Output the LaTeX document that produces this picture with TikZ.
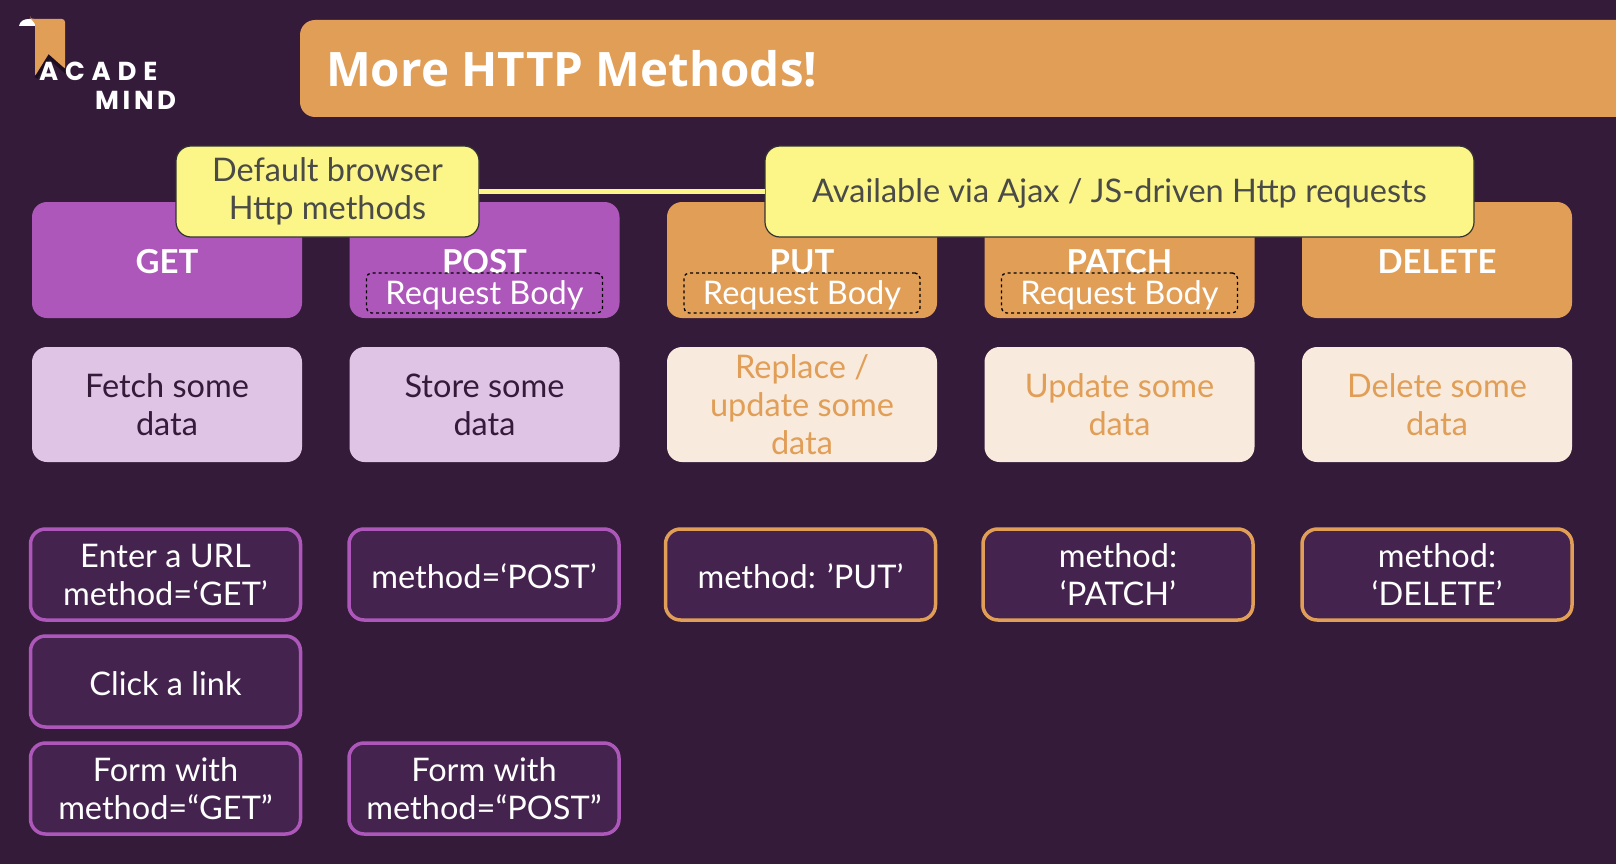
\documentclass[tikz,border=0pt]{standalone}
\usepackage{fontspec}
\setmainfont{Lato}
\newfontfamily\titlefont{Open Sans}
\newfontfamily\brandfont[LetterSpace=26]{Poppins}
\newfontfamily\mindfont[LetterSpace=14]{Poppins}
\usetikzlibrary{positioning}
\definecolor{acadbg}{HTML}{351B3A}
\definecolor{acadpurple}{HTML}{AE57BB}
\definecolor{acadorange}{HTML}{E19E57}
\definecolor{acadlilac}{HTML}{E0C4E6}
\definecolor{acadcream}{HTML}{F8EADC}
\definecolor{acadcell}{HTML}{45234F}
\definecolor{acadyellow}{HTML}{FCF688}
\definecolor{acadink}{HTML}{4A4A48}
\definecolor{acaddark}{HTML}{1C0E20}
\tikzset{
  node distance=29pt and 47.5pt,
  box/.style={rectangle, rounded corners=15pt, align=center, outer sep=0pt, inner sep=0pt,
              minimum width=270pt, font=\fontsize{32.5}{38}\selectfont},
  lowered/.style={execute at begin node={\rule{0pt}{#1}}},
  lowered/.default=28.5pt,
  head/.style={box, lowered=27pt, minimum height=116pt, fill=acadpurple, text=white},
  heado/.style={head, fill=acadorange},
  use/.style={box, minimum height=115pt, fill=acadlilac, text=acadbg},
  useo/.style={use, fill=acadcream, text=acadorange},
  cell/.style={box, lowered, minimum height=91pt, line width=3.5pt, draw=acadpurple, fill=acadcell, text=white},
  cello/.style={cell, draw=acadorange},
  note/.style={box, lowered, minimum height=91pt, line width=1.2pt, draw=black!80, fill=acadyellow, text=acadink},
  body/.style={rectangle, lowered, rounded corners=5pt, dashed, draw=black, line width=1.3pt, outer sep=0pt, inner sep=0pt,
               minimum width=236pt, minimum height=40pt, text=white, font=\fontsize{32.5}{38}\selectfont},
  title/.style={text=white, font=\titlefont\bfseries\fontsize{47.5}{50}\selectfont, inner sep=0pt},
  brand/.style={text=white, inner sep=0pt, font=\brandfont\bfseries\fontsize{26}{30}\selectfont},
  brandm/.style={brand, font=\mindfont\bfseries\fontsize{26}{30}\selectfont},
  link/.style={line width=5pt, draw=acadyellow},
}
\newcommand{\hname}[1]{{\bfseries\fontsize{33}{38}\selectfont #1}}
\begin{document}
\begin{tikzpicture}[x=1pt, y=-1pt]
    \useasboundingbox[fill=acadbg] (0,0) rectangle (1616,864);

    % logo
    \fill[white] (19,26) .. controls (20,21) and (24,19) .. (29,19) -- (34,19) -- (36,26) -- cycle;
    \fill[acadorange, rounded corners=3pt] (30,19) -- (65,19) -- (65,70) -- (48,58) -- (35,77) -- (35,27) .. controls (35,24) and (33,21) .. (30,19) -- cycle;
    \draw[acaddark, line width=3.5pt] (36,78) -- (49,57) -- (66,72);
    \node[brand, anchor=west] (acade) at (39,71) {ACADE};
    \node[brandm, anchor=west] (mind) at (95,100) {MIND};

    % banner
    \node[rectangle, rounded corners=15pt, fill=acadorange, minimum width=1340pt, minimum height=97pt, anchor=north west, outer sep=0pt] (banner) at (300,20) {};
    \node[title, anchor=west] (headline) at (326,69) {More HTTP Methods!};

    % method column heads
    \node[head, anchor=north west] (get) at (32,202) {\hname{GET}};
    \node[head, right=of get] (post) {\hname{POST}};
    \node[heado, right=of post] (put) {\hname{PUT}};
    \node[heado, right=of put] (patch) {\hname{PATCH}};
    \node[heado, right=of patch] (delete) {\hname{DELETE}};

    \foreach \m in {post,put,patch}{
      \node[body, above=5pt of \m.south] (body\m) {Request Body};
    }

    % what they do
    \node[use, below=of get] (useget) {Fetch some\\data};
    \node[use, below=of post] (usepost) {Store some\\data};
    \node[useo, below=of put] (useput) {Replace /\\update some\\data};
    \node[useo, below=of patch] (usepatch) {Update some\\data};
    \node[useo, below=of delete] (usedelete) {Delete some\\data};

    % how they are sent
    \node[cell, below=67pt of useget, xshift=-1.5pt] (url) {Enter a URL\\method=‘GET’};
    \node[cell, below=16pt of url] (click) {Click a link};
    \node[cell, below=16pt of click] (formget) {Form with\\method=“GET”};
    \node[cell, below=67pt of usepost, xshift=-0.5pt] (attrpost) {method=‘POST’};
    \node[cell, below=123pt of attrpost] (formpost) {Form with\\method=“POST”};
    \node[cello, below=67pt of useput, xshift=-1.5pt] (attrput) {method: 'PUT'};
    \node[cello, below=67pt of usepatch, xshift=-1.5pt] (attrpatch) {method:\\‘PATCH’};
    \node[cello, below=67pt of usedelete] (attrdelete) {method:\\‘DELETE’};

    % yellow notes
    \node[note, minimum width=303pt, anchor=north west] (native) at (176,146) {Default browser\\Http methods};
    \node[note, minimum width=709pt, anchor=north west] (ajax) at (765,146) {Available via Ajax / JS-driven Http requests};
    \draw[link] (native) -- (ajax);
\end{tikzpicture}
\end{document}
